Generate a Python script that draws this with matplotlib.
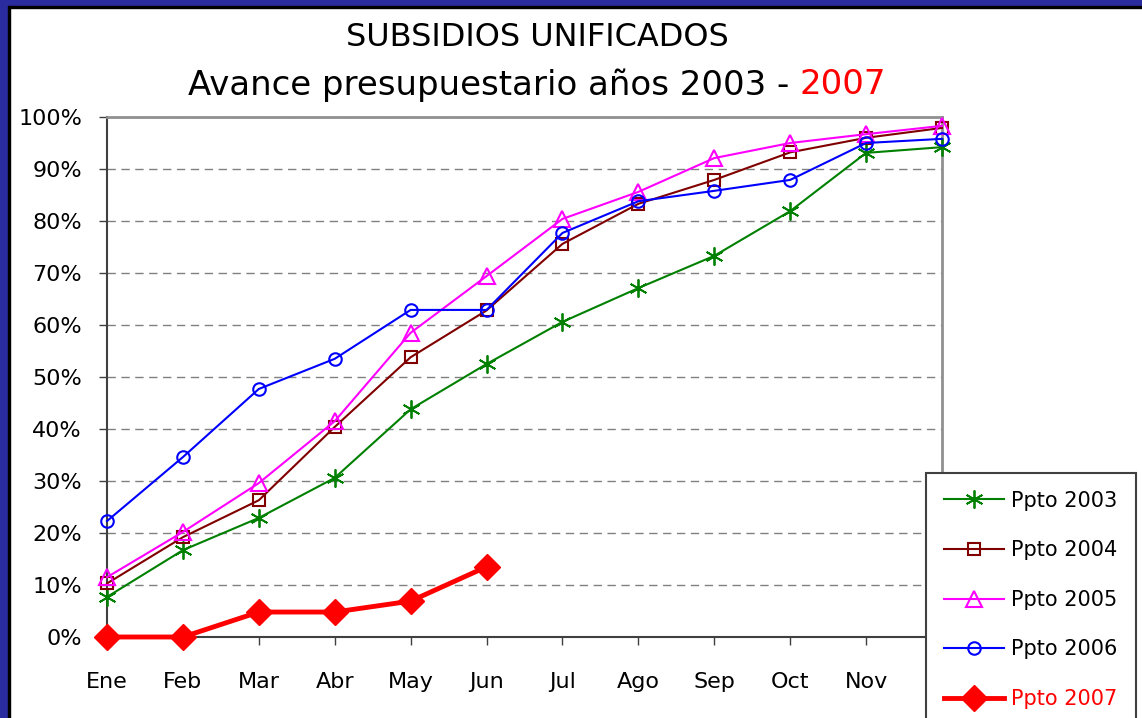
import matplotlib.pyplot as plt
from matplotlib.patches import Rectangle
import numpy as np

# Months and budget execution (%) per year
months = ['Ene', 'Feb', 'Mar', 'Abr', 'May', 'Jun', 'Jul', 'Ago', 'Sep', 'Oct', 'Nov', 'Dic']
ppto_2003 = [7.7, 16.7, 22.9, 30.6, 43.8, 52.5, 60.6, 67.1, 73.3, 81.9, 93.1, 94.2]
ppto_2004 = [10.3, 19.2, 26.3, 40.4, 53.8, 62.8, 75.6, 83.3, 87.9, 93.2, 96.0, 97.9]
ppto_2005 = [11.5, 20.2, 29.6, 41.5, 58.5, 69.4, 80.4, 85.6, 92.1, 95.0, 96.7, 98.3]
ppto_2006 = [22.3, 34.6, 47.7, 53.5, 62.9, 62.9, 77.7, 83.8, 85.8, 87.9, 95.0, 95.8]
ppto_2007 = [0.0, 0.0, 4.8, 4.8, 6.9, 13.5]

W, H = 1142, 718
fig = plt.figure(figsize=(W / 100, H / 100), dpi=100)
fig.patch.set_facecolor('white')

# Navy frame at top and left
navy = '#2b2ba0'
fig.patches.append(Rectangle((0, 1 - 6 / H), 1, 6 / H, transform=fig.transFigure, color=navy, zorder=0))
fig.patches.append(Rectangle((0, 1 - 8 / H), 1, 2 / H, transform=fig.transFigure, color='black', zorder=0))
fig.patches.append(Rectangle((0, 0), 8 / W, 1, transform=fig.transFigure, color=navy, zorder=0))
fig.patches.append(Rectangle((8 / W, 0), 2 / W, 1 - 6 / H, transform=fig.transFigure, color='black', zorder=0))

ax = fig.add_axes([107 / W, 1 - 637 / H, (942 - 107) / W, (637 - 117) / H])
x = np.arange(len(months))

ax.plot(x, ppto_2003, color='#008000', lw=1.5, marker=(6, 2, 0), ms=13, mew=1.3,
        label='Ppto 2003', zorder=3, clip_on=False)
ax.plot(x, ppto_2004, color='#800000', lw=1.5, marker='s', ms=8, mew=1.5, mfc='none',
        label='Ppto 2004', zorder=3, clip_on=False)
ax.plot(x, ppto_2005, color='#ff00ff', lw=1.5, marker='^', ms=11, mew=1.5, mfc='none',
        label='Ppto 2005', zorder=3, clip_on=False)
ax.plot(x, ppto_2006, color='#0000ff', lw=1.5, marker='o', ms=9, mew=1.5, mfc='none',
        label='Ppto 2006', zorder=3, clip_on=False)
ax.plot(x[:len(ppto_2007)], ppto_2007, color='#ff0000', lw=3.5, marker='D', ms=13,
        label='Ppto 2007', zorder=4, clip_on=False)

ax.set_xlim(0, 11)
ax.set_ylim(0, 100)
ax.set_xticks(x)
ax.set_xticklabels(months, fontsize=16)
ax.set_yticks(range(0, 101, 10))
ax.set_yticklabels([f'{v}%' for v in range(0, 101, 10)], fontsize=16)
ax.tick_params(axis='x', direction='out', length=6, width=1, color='#404040', pad=19)
ax.tick_params(axis='y', direction='out', length=6, width=1, color='#404040', pad=12)

ax.yaxis.grid(True, linestyle=(0, (6, 4)), color='#808080', lw=1)
ax.set_axisbelow(True)
for side in ['left', 'bottom']:
    ax.spines[side].set_color('#404040')
    ax.spines[side].set_linewidth(1.5)
for side in ['top', 'right']:
    ax.spines[side].set_color('#909090')
    ax.spines[side].set_linewidth(2)

# Title, second line with red year
fig.text(537 / W, 1 - 38 / H, 'SUBSIDIOS UNIFICADOS', fontsize=23, ha='center', va='center')
t1 = fig.text(0, 1 - 85 / H, 'Avance presupuestario años 2003 - ', fontsize=24.5, ha='left', va='center')
t2 = fig.text(0, 1 - 85 / H, '2007', fontsize=24.5, ha='left', va='center', color='red')
renderer = fig.canvas.get_renderer()
w1 = t1.get_window_extent(renderer).width
w2 = t2.get_window_extent(renderer).width
x0 = 537 - (w1 + w2) / 2
t1.set_x(x0 / W)
t2.set_x((x0 + w1) / W)

# Legend in the lower right corner, partly off the figure
handles, labels = ax.get_legend_handles_labels()
leg = fig.legend(handles, labels, loc='upper left', bbox_to_anchor=(926 / W, 1 - 473 / H),
                 bbox_transform=fig.transFigure, borderaxespad=0, fontsize=15,
                 frameon=True, fancybox=False, edgecolor='#404040', framealpha=1,
                 handlelength=2.9, handletextpad=0.35, labelspacing=1.42, borderpad=0.85)
leg.get_frame().set_linewidth(1.5)
leg.get_texts()[4].set_color('red')

fig.savefig('out.png', dpi=100)
